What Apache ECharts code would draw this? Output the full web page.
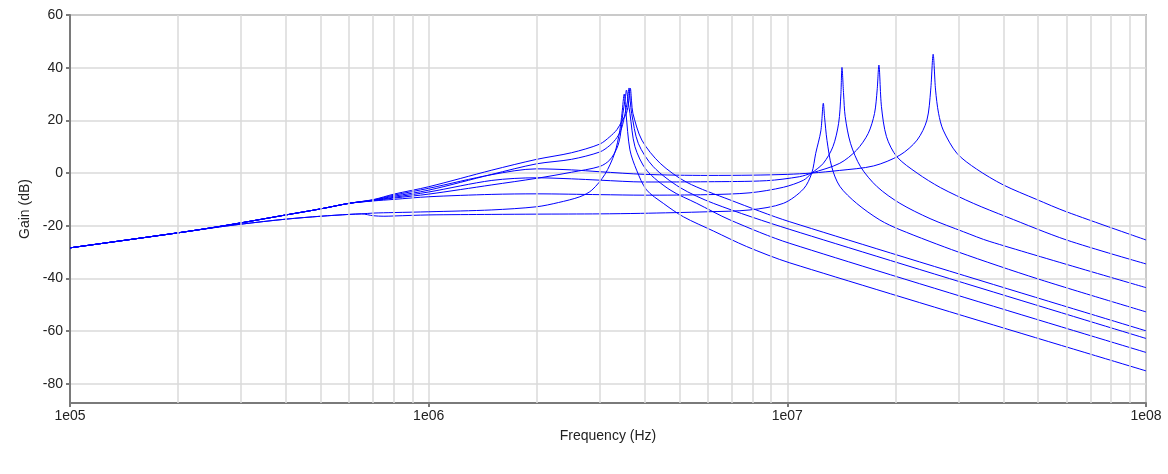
<!DOCTYPE html>
<html>
<head>
<meta charset="utf-8">
<script src="https://cdn.jsdelivr.net/npm/echarts@6/dist/echarts.min.js"></script>
<style>
html,body{margin:0;padding:0;background:#fff;}
#chart{width:1168px;height:474px;}
</style>
</head>
<body>
<div id="chart"></div>
<script>
// Shared low-frequency part (Hz, dB)
const lowFreq   = [1e5, 2e5, 2.5e5, 3e5, 4e5, 5e5, 6e5];
const lowUpper  = [-28.4, -22.7, -20.7, -18.9, -15.9, -13.6, -11.5];
const lowLower  = [-28.4, -22.7, -20.8, -19.4, -17.5, -16.4, -15.7];

// Curves resonating near 3.6 MHz
const a1Freq = [7e5, 8e5, 1e6, 1.5e6, 2e6, 2.5e6, 3e6, 3.2e6, 3.35e6, 3.45e6, 3.56e6, 3.61e6, 3.65e6, 3.68e6, 3.71e6, 3.93e6, 4.42e6, 5.24e6, 6.92e6, 1.016e7, 1e8];
const a1Gain = [-10.1, -8.0, -5.2, 1.1, 5.2, 7.7, 11.0, 13.8, 16.5, 19.5, 22.7, 27, 32.2, 27, 22.7, 12.5, 3.7, -3.5, -10.2, -18.5, -59.9];

const a2Freq = [7e5, 8e5, 1e6, 1.5e6, 2e6, 2.5e6, 3e6, 3.2e6, 3.35e6, 3.45e6, 3.53e6, 3.58e6, 3.62e6, 3.65e6, 3.68e6, 3.84e6, 4.23e6, 5.02e6, 6.22e6, 1.016e7, 1e8];
const a2Gain = [-10.3, -8.8, -6.5, -0.5, 3.5, 5.2, 8.0, 10.5, 13.5, 17, 22.7, 27, 32.3, 27, 22.7, 11.3, 2.4, -5.5, -11.5, -21.4, -62.8];

const a3Freq = [7e5, 8e5, 1e6, 1.5e6, 2e6, 2.5e6, 3e6, 3.2e6, 3.35e6, 3.42e6, 3.48e6, 3.53e6, 3.56e6, 3.6e6, 3.64e6, 3.76e6, 4.05e6, 4.71e6, 5.59e6, 6.92e6, 1.016e7, 1e8];
const a3Gain = [-10.5, -9.5, -8.0, -4.5, -2.0, 0.3, 2.5, 5, 9.5, 14, 22.7, 28, 31.5, 27, 22.7, 10.0, 1.1, -6.4, -11.5, -17.8, -26.7, -68.1];

const a4Freq = [6.5e5, 7e5, 8e5, 1e6, 1.5e6, 2e6, 2.3e6, 2.64e6, 2.85e6, 3.1e6, 3.3e6, 3.41e6, 3.46e6, 3.51e6, 3.55e6, 3.64e6, 3.8e6, 4.05e6, 4.51e6, 5.13e6, 6.22e6, 7.7e6, 1.016e7, 1e8];
const a4Gain = [-15.5, -15.2, -15.0, -14.7, -14.0, -12.8, -11.2, -9.0, -6.5, -0.5, 7.5, 16, 22.7, 30, 22.7, 8.8, 1.1, -6.4, -11.5, -16.6, -22.0, -27.9, -34.1, -75.1];

// Curves resonating above 10 MHz
const b1Freq = [7e5, 8e5, 1e6, 1.5e6, 2e6, 2.5e6, 3e6, 4e6, 6e6, 8e6, 1e7, 1.17e7, 1.4e7, 1.74e7, 2.06e7, 2.3e7, 2.45e7, 2.51e7, 2.55e7, 2.59e7, 2.64e7, 2.72e7, 2.97e7, 3.37e7, 4.0e7, 4.95e7, 6.0e7, 1e8];
const b1Gain = [-10.2, -8.4, -5.8, -0.6, 1.6, 1.2, 0.5, -0.5, -0.9, -0.8, -0.5, 0, 1.0, 2.7, 6.8, 12.5, 20.1, 31.5, 45.1, 31.5, 22.7, 16.3, 7.5, 1.5, -4.5, -10.0, -14.7, -25.4];

const b2Freq = [7e5, 8e5, 1e6, 1.5e6, 2e6, 2.5e6, 3e6, 4e6, 6e6, 8.75e6, 1.08e7, 1.17e7, 1.4e7, 1.56e7, 1.68e7, 1.75e7, 1.78e7, 1.8e7, 1.83e7, 1.89e7, 2.02e7, 2.3e7, 2.67e7, 3.3e7, 4.08e7, 6.0e7, 1e8];
const b2Gain = [-10.4, -9.2, -7.2, -2.8, -1.8, -2.2, -2.7, -3.4, -3.3, -2.9, -1.4, 0, 3.7, 8.7, 15.0, 22.6, 31.5, 41.0, 25.2, 13.8, 6.2, 0.0, -5.5, -11.5, -16.6, -25.4, -34.5];

const b3Freq = [7e5, 8e5, 1e6, 1.5e6, 2e6, 3e6, 4e6, 6e6, 7.87e6, 9.75e6, 1.11e7, 1.17e7, 1.26e7, 1.34e7, 1.39e7, 1.41e7, 1.42e7, 1.435e7, 1.45e7, 1.5e7, 1.6e7, 1.78e7, 2.06e7, 2.5e7, 3.1e7, 3.67e7, 1e8];
const b3Gain = [-10.6, -10.0, -9.0, -8.1, -7.9, -8.2, -8.4, -8.2, -7.5, -5.4, -2.7, 0, 3.7, 10.0, 18.9, 29.6, 40.1, 30, 21.4, 11.3, 2.4, -5.2, -11.5, -17.3, -22.3, -26.0, -43.5];

const b4Freq = [6.5e5, 7e5, 7.5e5, 8e5, 1e6, 1.5e6, 2e6, 3e6, 3.9e6, 6e6, 7.87e6, 9.75e6, 1.11e7, 1.17e7, 1.2e7, 1.24e7, 1.26e7, 1.27e7, 1.29e7, 1.33e7, 1.4e7, 1.56e7, 1.81e7, 2.06e7, 3e7, 5e7, 1e8];
const b4Gain = [-15.5, -16.2, -16.4, -16.3, -15.9, -15.7, -15.6, -15.5, -15.3, -14.7, -14.0, -11.5, -6.0, 0, 7.5, 16, 26.5, 21.2, 12.4, 2.3, -5.0, -11.5, -17.8, -21.5, -30.0, -40.2, -52.7];

// Axis tick values
const xMajorTicks = [1e5, 1e6, 1e7, 1e8];
const xMinorGrid = [2e5,3e5,4e5,5e5,6e5,7e5,8e5,9e5, 2e6,3e6,4e6,5e6,6e6,7e6,8e6,9e6, 2e7,3e7,4e7,5e7,6e7,7e7,8e7,9e7];
const yRange = [-87.3, 60];

function build(baseF, baseG, f, g) {
  const out = [];
  for (let i = 0; i < baseF.length; i++) out.push([baseF[i], baseG[i]]);
  for (let i = 0; i < f.length; i++) out.push([f[i], g[i]]);
  return out;
}

const curves = [
  build(lowFreq, lowUpper, a1Freq, a1Gain),
  build(lowFreq, lowUpper, a2Freq, a2Gain),
  build(lowFreq, lowUpper, a3Freq, a3Gain),
  build(lowFreq, lowLower, a4Freq, a4Gain),
  build(lowFreq, lowUpper, b1Freq, b1Gain),
  build(lowFreq, lowUpper, b2Freq, b2Gain),
  build(lowFreq, lowUpper, b3Freq, b3Gain),
  build(lowFreq, lowLower, b4Freq, b4Gain)
];

const gridColor = '#dadada';
const axisColor = '#7a7a7a';
const font = 'Liberation Sans, Arial, sans-serif';

const series = [{
  type: 'line',
  data: [],
  z: 1,
  silent: true,
  markLine: {
    silent: true,
    symbol: ['none', 'none'],
    label: {show: false},
    animation: false,
    lineStyle: {color: gridColor, width: 1.5, type: 'solid'},
    emphasis: {disabled: true},
    data: xMinorGrid.map(v => ({xAxis: v}))
  }
}];
curves.forEach(d => series.push({
  type: 'line',
  data: d,
  showSymbol: false,
  symbol: 'none',
  smooth: 0.3,
  z: 3,
  lineStyle: {color: '#0000ff', width: 1},
  emphasis: {disabled: true}
}));

const chart = echarts.init(document.getElementById('chart'), null, {renderer: 'canvas'});
chart.setOption({
  animation: false,
  backgroundColor: '#ffffff',
  grid: {left: 70, right: 22, top: 15, bottom: 71, show: true, borderColor: axisColor, borderWidth: 1.5, backgroundColor: 'transparent'},
  xAxis: {
    type: 'log',
    logBase: 10,
    min: xMajorTicks[0],
    max: xMajorTicks[xMajorTicks.length - 1],
    name: 'Frequency (Hz)',
    nameLocation: 'middle',
    nameGap: 26,
    nameTextStyle: {fontFamily: font, fontSize: 14, color: '#222'},
    axisLine: {show: true, onZero: false, lineStyle: {color: axisColor, width: 2}},
    axisTick: {show: true, length: 4, lineStyle: {color: axisColor, width: 2}},
    axisLabel: {fontFamily: font, fontSize: 14, color: '#222', margin: 6,
      formatter: v => '1e0' + Math.round(Math.log10(v))},
    splitLine: {show: true, lineStyle: {color: gridColor, width: 1.5}},
    minorTick: {show: false},
    minorSplitLine: {show: false}
  },
  yAxis: {
    type: 'value',
    min: yRange[0],
    max: yRange[1],
    splitNumber: 7,
    name: 'Gain (dB)',
    nameLocation: 'middle',
    nameGap: 31,
    nameRotate: 90,
    nameTextStyle: {fontFamily: font, fontSize: 14, color: '#222'},
    axisLine: {show: true, onZero: false, lineStyle: {color: axisColor, width: 2}},
    axisTick: {show: true, length: 4, lineStyle: {color: axisColor, width: 2}},
    axisLabel: {fontFamily: font, fontSize: 14, color: '#222', margin: 7, showMinLabel: false,
      formatter: v => (Math.abs(v % 20) < 1e-6 ? String(Math.round(v)) : '')},
    splitLine: {show: true, lineStyle: {color: gridColor, width: 1.5}}
  },
  series: series
});
</script>
</body>
</html>
